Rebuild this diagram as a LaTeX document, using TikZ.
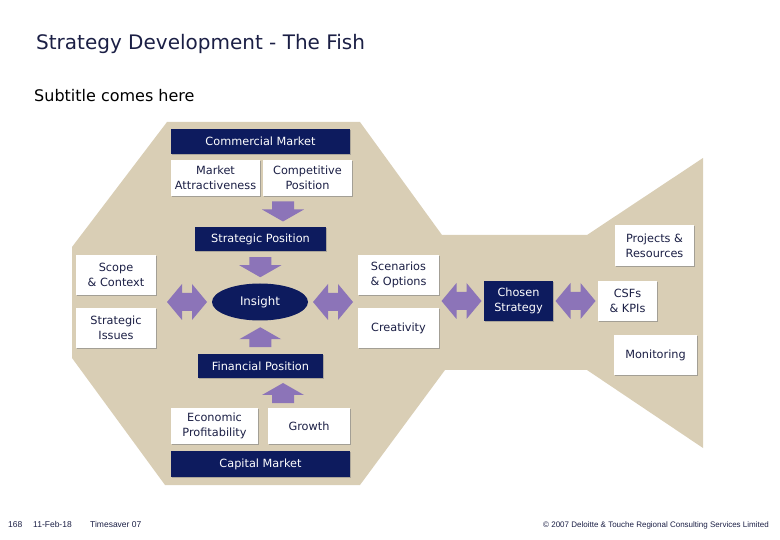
\documentclass[tikz,border=0pt]{standalone}
\usepackage{fontspec}
\setmainfont{DejaVu Sans}
\newfontfamily\footfont{Liberation Sans}
\usetikzlibrary{shapes.geometric,calc,shadows}
\definecolor{fishc}{HTML}{D9CEB5}
\definecolor{navyc}{HTML}{0D1B5E}
\definecolor{arrowc}{HTML}{8C74B8}
\definecolor{txtc}{HTML}{1B1F45}
\tikzset{
  darkbox/.style={fill=navyc, text=white, font=\fontsize{11.3}{14}\selectfont, inner sep=0pt,
     drop shadow={shadow xshift=1pt, shadow yshift=-1pt, fill=gray, opacity=0.5}},
  whitebox/.style={fill=white, text=txtc, font=\fontsize{11.3}{15}\selectfont, align=center, inner sep=0pt,
     drop shadow={shadow xshift=1pt, shadow yshift=-1pt, fill=gray, opacity=0.6}},
  downarr/.pic={\fill[arrowc] (-11,-10) -- (11,-10) -- (11,-2) -- (21,-2) -- (0,10) -- (-21,-2) -- (-11,-2) -- cycle;},
  uparr/.pic={\fill[arrowc] (-11,10) -- (11,10) -- (11,2) -- (21,2) -- (0,-10) -- (-21,2) -- (-11,2) -- cycle;},
  dblarr/.pic={\fill[arrowc] (-20,0) -- (-5,-18) -- (-5,-9) -- (5,-9) -- (5,-18) -- (20,0) -- (5,18) -- (5,9) -- (-5,9) -- (-5,18) -- cycle;}
}
\begin{document}
\begin{tikzpicture}[x=1pt,y=-1pt]
\useasboundingbox (0,0) rectangle (780,540);
% fish body
\fill[fishc] (167,122) -- (360,122) -- (442,235) -- (587,235) -- (703,158) -- (703,448)
  -- (587,370) -- (445,370) -- (360,485) -- (165,485) -- (72,358) -- (72,247) -- cycle;
% title
\node[anchor=base west, text=txtc, font=\fontsize{20}{24}\selectfont, inner sep=0pt] (title) at (36,50) {Strategy Development - The Fish};
\node[anchor=base west, text=black, font=\fontsize{16}{18}\selectfont, inner sep=0pt] (subtitle) at (34,102) {Subtitle comes here};
% central column
\node[darkbox, minimum width=179pt, minimum height=25pt] (cm) at (260.5,141.5) {Commercial Market};
\node[whitebox, minimum width=89pt, minimum height=36pt] (ma) at (215.5,178) {Market\\Attractiveness};
\node[whitebox, minimum width=89pt, minimum height=36pt] (cp) at (307.5,178) {Competitive\\Position};
\node[darkbox, minimum width=131pt, minimum height=24pt] (sp) at (260.5,239) {Strategic Position};
\node[ellipse, fill=navyc, text=white, font=\fontsize{11.8}{14}\selectfont, minimum width=96pt, minimum height=37pt, inner sep=0pt] (ins) at (260,302) {Insight};
\node[darkbox, minimum width=125pt, minimum height=24pt] (fp) at (260.5,366) {Financial Position};
\node[whitebox, minimum width=87pt, minimum height=36pt] (ep) at (214.5,426) {Economic\\Profitability};
\node[whitebox, minimum width=82pt, minimum height=36pt] (gr) at (309,426) {Growth};
\node[darkbox, minimum width=179pt, minimum height=26pt] (capm) at (260.5,464) {Capital Market};
% side boxes
\node[whitebox, minimum width=80pt, minimum height=40pt] (scope) at (116,275) {Scope\\\& Context};
\node[whitebox, minimum width=80pt, minimum height=40pt] (issues) at (116,328) {Strategic\\Issues};
\node[whitebox, minimum width=81pt, minimum height=40pt] (scen) at (398.5,275) {Scenarios\\\& Options};
\node[whitebox, minimum width=81pt, minimum height=40pt] (crea) at (398.5,328) {Creativity};
\node[darkbox, align=center, font=\fontsize{11.3}{14.5}\selectfont, minimum width=69pt, minimum height=40pt] (chosen) at (518.5,301) {Chosen\\Strategy};
\node[whitebox, minimum width=59pt, minimum height=40pt] (csf) at (627.5,301) {CSFs\\\& KPIs};
\node[whitebox, minimum width=79pt, minimum height=41pt] (proj) at (654.5,245.5) {Projects \&\\Resources};
\node[whitebox, minimum width=83pt, minimum height=40pt] (mon) at (655.5,355) {Monitoring};
% block arrows
\pic at ($(ma.south)!0.5!(sp.north)+(45,0)$) {downarr};
\pic at ($(sp.south)!0.5!(ins.north)$) {downarr};
\pic at ($(ins.south)!0.5!(fp.north)$) {uparr};
\pic at ($(fp.south)!0.5!(ep.north)+(45.5,0)$) {uparr};
\pic at ($(scope.east|-ins)!0.5!(ins.west)+(3,0)$) {dblarr};
\pic at ($(ins.east)!0.5!(scen.west|-ins)$) {dblarr};
\pic at ($(scen.east|-chosen)!0.5!(chosen.west)$) {dblarr};
\pic at ($(chosen.east)!0.5!(csf.west)$) {dblarr};
% footer
\node[anchor=base west, font=\footfont\fontsize{8.5}{10}\selectfont, text=txtc, inner sep=0pt] (pg) at (8,527) {168};
\node[anchor=base west, font=\footfont\fontsize{8.5}{10}\selectfont, text=txtc, inner sep=0pt] (date) at (33,527) {11-Feb-18};
\node[anchor=base west, font=\footfont\fontsize{8.5}{10}\selectfont, text=txtc, inner sep=0pt] (ts) at (90,527) {Timesaver 07};
\node[anchor=base east, font=\footfont\fontsize{8}{10}\selectfont, text=txtc, inner sep=0pt] (copy) at (769,527) {© 2007 Deloitte \& Touche Regional Consulting Services Limited};
\end{tikzpicture}
\end{document}
